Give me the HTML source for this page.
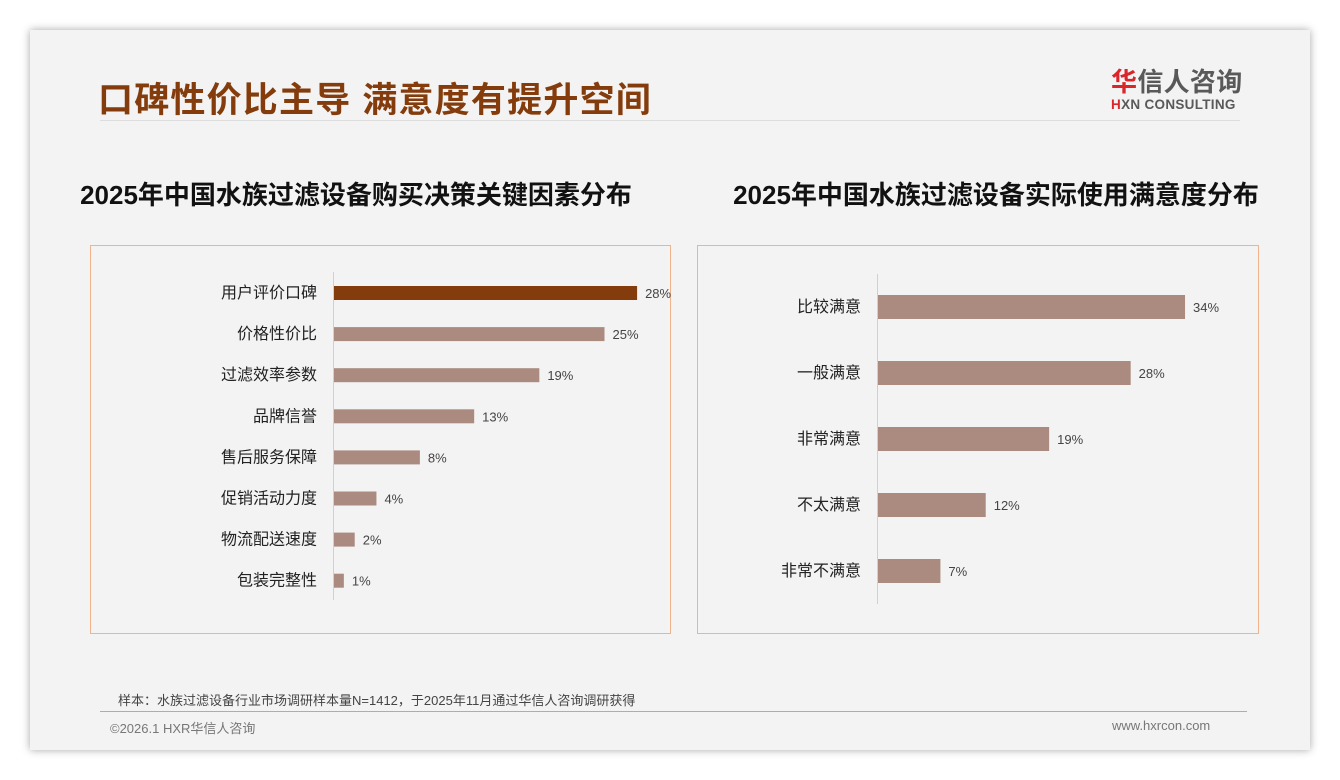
<!DOCTYPE html>
<html><head><meta charset="utf-8"><style>
body{margin:0;width:1340px;height:780px;background:#fff;position:relative;overflow:hidden;font-family:"Liberation Sans","Noto Sans CJK SC",sans-serif}
.card{position:absolute;left:30px;top:30px;width:1280px;height:720px;background:#f3f3f3;box-shadow:0 0 8px rgba(0,0,0,.35)}
.abs{position:absolute}
</style></head><body>
<div class="card"></div>
<div class="abs" style="left:98px;top:72px;font-size:35px;font-weight:bold;color:#843c0c;letter-spacing:1.2px">口碑性价比主导 满意度有提升空间</div>
<div class="abs" style="left:1111px;top:62px;">
 <div style="font-size:26px;font-weight:bold;color:#595959;letter-spacing:.3px"><span style="color:#d9262b">华</span>信人咨询</div>
 <div style="font-size:13.5px;font-weight:bold;color:#595959;margin-top:-2px;letter-spacing:.3px"><span style="color:#d9262b">H</span>XN CONSULTING</div>
</div>
<div class="abs" style="left:100px;top:120px;width:1140px;height:1px;background:#ddd"></div>
<div class="abs" style="left:56px;top:175px;width:600px;text-align:center;font-size:26px;font-weight:bold;color:#111">2025年中国水族过滤设备购买决策关键因素分布</div>
<div class="abs" style="left:696px;top:175px;width:600px;text-align:center;font-size:26px;font-weight:bold;color:#111">2025年中国水族过滤设备实际使用满意度分布</div>
<svg class="abs" style="left:0;top:0" width="1340" height="780">
 <rect x="90.5" y="245.5" width="580" height="388" fill="#f3f3f3" stroke="#f0b48c"/>
 <rect x="697.5" y="245.5" width="561" height="388" fill="#f3f3f3" stroke="#f0b48c"/>
 <g id="left"></g><g id="right"></g>
</svg>
<div class="abs" style="left:118px;top:690px;font-size:13px;color:#444">样本：水族过滤设备行业市场调研样本量N=1412，于2025年11月通过华信人咨询调研获得</div>
<div class="abs" style="left:100px;top:711px;width:1147px;height:1px;background:#c9a58c"></div>
<div class="abs" style="left:110px;top:718px;font-size:13px;color:#777">©2026.1 HXR华信人咨询</div>
<div class="abs" style="left:1112px;top:718px;font-size:13px;color:#777">www.hxrcon.com</div>
<script>
const leftCats=["用户评价口碑","价格性价比","过滤效率参数","品牌信誉","售后服务保障","促销活动力度","物流配送速度","包装完整性"];
const leftVals=[28,25,19,13,8,4,2,1];
const rightCats=["比较满意","一般满意","非常满意","不太满意","非常不满意"];
const rightVals=[34,28,19,12,7];
const NS="http://www.w3.org/2000/svg";
function mk(p,t,a){const e=document.createElementNS(NS,t);for(const k in a)e.setAttribute(k,a[k]);p.appendChild(e);return e;}
function draw(gid,cats,vals,x0,pxPer,y0,step,bh,axTop,axBot,prefix){
 const g=document.getElementById(gid);
 const ax=mk(g,'line',{x1:x0+.5,x2:x0+.5,y1:axTop,y2:axBot,stroke:'#d0d0d0'});
 
 
 const xs=v=>x0+v*pxPer, ys=i=>y0+i*step;
 cats.forEach((c,i)=>{
  const r=mk(g,'rect',{x:x0+1,y:ys(i)-bh/2,width:xs(vals[i])-x0-1,height:bh,fill:(gid==='left'&&i===0)?'#843c0c':'#ab8b80'});
  
  
  const l=mk(g,'text',{x:x0-16,y:ys(i)+5,'text-anchor':'end','font-size':16,fill:'#222'});l.textContent=c;
  
  
  const v=mk(g,'text',{x:xs(vals[i])+8,y:ys(i)+5,'font-size':13,fill:'#444'});v.textContent=vals[i]+'%';
  
  
 });
}
draw('left',leftCats,leftVals,333,10.86,293,41.1,14,272,600,'left');
draw('right',rightCats,rightVals,877,9.06,307,66,24,274,604,'right');
</script>
</body></html>
